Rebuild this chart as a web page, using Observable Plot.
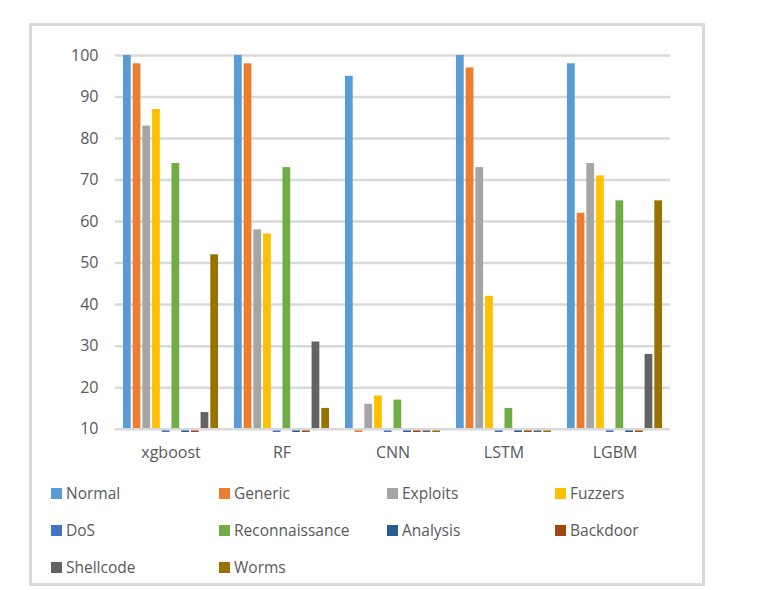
<!DOCTYPE html>
<html>
<head>
<meta charset="utf-8">
<script src="https://cdn.jsdelivr.net/npm/d3@7"></script>
<script src="https://cdn.jsdelivr.net/npm/@observablehq/plot@0.6"></script>
<style>
  html, body { margin: 0; padding: 0; background: #fff; }
  #wrap { position: relative; width: 760px; height: 590px; font-family: "Open Sans", "Noto Sans", sans-serif; }
  #box { position: absolute; left: 29px; top: 23px; width: 676px; height: 563px; border: 3px solid #d9d9d9; box-sizing: border-box; }
  #chart { position: absolute; left: 0; top: 0; }
  .lg { position: absolute; display: flex; align-items: center; font-size: 15.5px; color: #595959; white-space: nowrap; height: 20px; }
  .sw { width: 11px; height: 11px; margin-right: 4px; }
</style>
</head>
<body>
<div id="wrap">
  <div id="box"></div>
  <div id="chart"></div>
</div>
<script>
const categories = ["xgboost", "RF", "CNN", "LSTM", "LGBM"];
const series = ["Normal", "Generic", "Exploits", "Fuzzers", "DoS", "Reconnaissance", "Analysis", "Backdoor", "Shellcode", "Worms"];
const colors = ["#5B9BD5", "#ED7D31", "#A5A5A5", "#FFC000", "#4472C4", "#70AD47", "#255E91", "#9E480E", "#636363", "#997300"];

const Normal = [100, 100, 95, 100, 98];
const Generic = [98, 98, 0, 97, 62];
const Exploits = [83, 58, 16, 73, 74];
const Fuzzers = [87, 57, 18, 42, 71];
const DoS = [0, 0, 0, 0, 0];
const Reconnaissance = [74, 73, 17, 15, 65];
const Analysis = [0, 0, 0, 0, 0];
const Backdoor = [0, 0, 0, 0, 0];
const Shellcode = [14, 31, 0, 0, 28];
const Worms = [52, 15, 0, 0, 65];

const yTicks = [10, 20, 30, 40, 50, 60, 70, 80, 90, 100];

const seriesValues = [Normal, Generic, Exploits, Fuzzers, DoS, Reconnaissance, Analysis, Backdoor, Shellcode, Worms];
const table = [];
series.forEach((s, i) => seriesValues[i].forEach((v, j) => table.push({category: categories[j], series: s, value: v})));

const chart = Plot.plot({
  width: 760,
  height: 470,
  marginLeft: 115,
  marginRight: 90,
  marginTop: 55,
  marginBottom: 38,
  style: {fontFamily: "'Open Sans', 'Noto Sans', sans-serif", fontSize: "16px", color: "#595959", background: "transparent", overflow: "visible"},
  fx: {domain: categories, paddingInner: 0, paddingOuter: 0, round: false, label: null},
  x: {domain: series, paddingInner: 0.2, paddingOuter: 0.82, round: false, axis: null},
  y: {domain: [9.2, 100], ticks: yTicks, label: null},
  color: {domain: series, range: colors},
  marks: [
    Plot.ruleY(yTicks.filter(t => t > 10), {stroke: "#d9d9d9", strokeWidth: 2.5}),
    Plot.barY(table, {fx: "category", x: "series", y1: 10, y2: "value", fill: "series", clip: true}),
    Plot.ruleY([10], {stroke: "#d9d9d9", strokeWidth: 2.5}),
    Plot.axisY(yTicks, {tickSize: 0, tickPadding: 17, fontSize: 16, fill: "#595959"}),
    Plot.axisFx({anchor: "bottom", tickSize: 0, tickPadding: 14, fontSize: 16, fill: "#595959", label: null})
  ]
});
document.getElementById("chart").appendChild(chart);

const wrap = document.getElementById("wrap");
series.forEach((s, i) => {
  const col = i % 4, row = Math.floor(i / 4);
  const d = document.createElement("div");
  d.className = "lg";
  d.style.left = (51 + col * 168) + "px";
  d.style.top = (493 + row * 37 - 10) + "px";
  const sw = document.createElement("span");
  sw.className = "sw";
  sw.style.background = colors[i];
  const t = document.createElement("span");
  t.textContent = s;
  d.appendChild(sw);
  d.appendChild(t);
  wrap.appendChild(d);
});
</script>
</body>
</html>
